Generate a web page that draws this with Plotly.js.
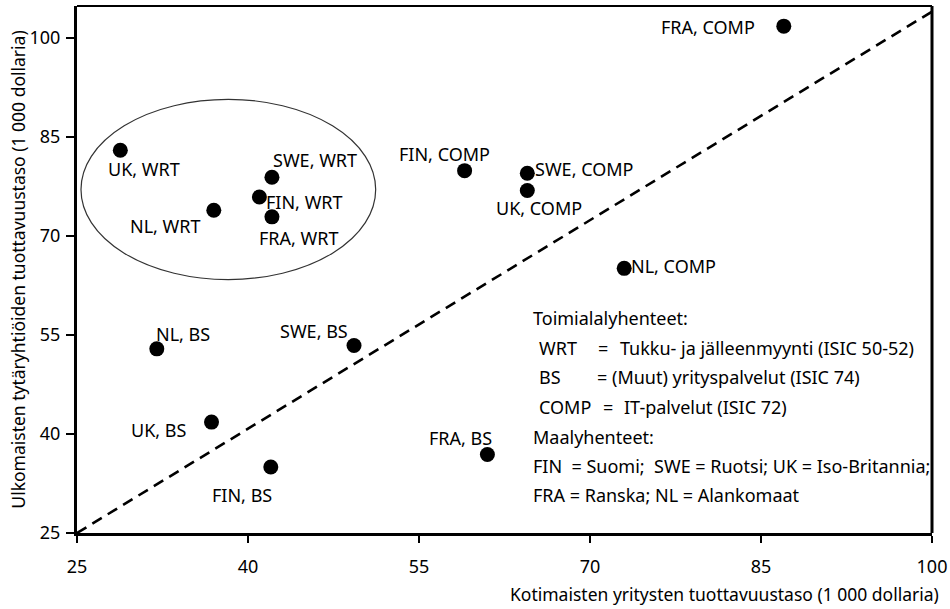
<!DOCTYPE html>
<html>
<head>
<meta charset="utf-8">
<script src="https://cdn.plot.ly/plotly-3.0.1.min.js"></script>
<style>html,body{margin:0;padding:0;background:#fff;}#chart{width:950px;height:609px;}</style>
</head>
<body>
<div id="chart"></div>
<script>
// Data
var labels = ["UK, WRT","NL, WRT","FIN, WRT","SWE, WRT","FRA, WRT",
              "FIN, COMP","SWE, COMP","UK, COMP","FRA, COMP","NL, COMP",
              "NL, BS","SWE, BS","UK, BS","FIN, BS","FRA, BS"];
var domestic = [28.8, 37.0, 41.0, 42.1, 42.1,
                59.0, 64.5, 64.5, 87.0, 73.0,
                32.0, 49.3, 36.8, 42.0, 61.0];
var foreign  = [83.0, 73.9, 75.9, 78.9, 72.9,
                79.9, 79.5, 76.9, 101.8, 65.1,
                52.9, 53.4, 41.8, 35.0, 36.9];
var diagX = [25, 100];
var diagY = [25, 104];
var xTicks = [25, 40, 55, 70, 85, 100];
var yTicks = [25, 40, 55, 70, 85, 100];
var groupBox = {x0: 25.35, x1: 51.2, y0: 63.4, y1: 90.7};

// label offsets in pixels (dx right, dy up)
var labelShift = [[24,-19],[-48,-16],[45,-5],[43,17],[27,-21],
                  [-20,17],[57,4],[11.5,-18],[-76,-1],[49,2],
                  [26.5,15],[-40,15],[-53,-8],[-29,-28],[-27,16]];

var FONT = "Noto Sans, Open Sans, sans-serif";
var FS = 18;
var FT = 17.5;

var traces = [
  {x: diagX, y: diagY, mode: "lines", type: "scatter", hoverinfo: "skip",
   line: {color: "#000", width: 2.6, dash: "11px,7px"}, showlegend: false},
  {x: domestic, y: foreign, mode: "markers", type: "scatter", text: labels,
   marker: {color: "#000", size: 15}, showlegend: false, cliponaxis: false}
];

var ann = labels.map(function(t, i){
  return {x: domestic[i], y: foreign[i], xref: "x", yref: "y", text: t, showarrow: false,
          xshift: labelShift[i][0], yshift: labelShift[i][1],
          font: {family: FONT, size: FS, color: "#000"}};
});

// px -> data helpers for text block placement
function dx(px){ return 25 + (px - 77) / 11.4; }
function dy(py){ return 25 + (532.7 - py) / 6.6; }
function txt(t, px, py){
  return {x: dx(px), y: dy(py), xref: "x", yref: "y", text: t, showarrow: false,
          xanchor: "left", yanchor: "middle", font: {family: FONT, size: FS, color: "#000"}};
}
var legendLines = [
  txt("Toimialalyhenteet:", 531, 318),
  txt("WRT", 537, 348), txt("=", 596, 348), txt("Tukku- ja jälleenmyynti (ISIC 50-52)", 618, 348),
  txt("BS", 537, 377), txt("= (Muut) yrityspalvelut (ISIC 74)", 595, 377),
  txt("COMP", 537, 407), txt("=", 601, 407), txt("IT-palvelut (ISIC 72)", 622, 407),
  txt("Maalyhenteet:", 531, 437),
  txt("FIN&nbsp;&nbsp;= Suomi;&nbsp;&nbsp;SWE = Ruotsi; UK = Iso-Britannia;", 531, 466),
  txt("FRA = Ranska; NL = Alankomaat", 531, 495)
];
ann = ann.concat(legendLines);
ann.push({xref: "paper", yref: "paper", x: 1.0105, y: -0.115, xanchor: "right", yanchor: "middle",
  text: "Kotimaisten yritysten tuottavuustaso (1 000 dollaria)", showarrow: false,
  font: {family: FONT, size: FT, color: "#000"}});

var layout = {
  width: 950, height: 609,
  margin: {l: 77, r: 18, t: 6, b: 76},
  paper_bgcolor: "#fff", plot_bgcolor: "#fff",
  font: {family: FONT, size: FS, color: "#000"},
  xaxis: {range: [25, 100], tickvals: xTicks, ticktext: xTicks.map(String),
          showgrid: false, zeroline: false, showline: true, linecolor: "#000", linewidth: 3,
          ticks: "outside", ticklen: 7, tickwidth: 2, tickcolor: "#000",
          ticklabelstandoff: 8, tickfont: {family: FONT, size: FS}},
  yaxis: {range: [25, 104.85], tickvals: yTicks, ticktext: yTicks.map(String),
          showgrid: false, zeroline: false, showline: true, linecolor: "#000", linewidth: 3,
          ticks: "outside", ticklen: 8, tickwidth: 2, tickcolor: "#000",
          ticklabelstandoff: 2, tickfont: {family: FONT, size: FS},
          title: {text: "Ulkomaisten tytäryhtiöiden tuottavuustaso (1 000 dollaria)",
                  font: {family: FONT, size: FT}, standoff: 0}},
  shapes: [
    {type: "circle", xref: "x", yref: "y", x0: groupBox.x0, x1: groupBox.x1, y0: groupBox.y0, y1: groupBox.y1,
     line: {color: "#333", width: 1.2}},
    {type: "line", xref: "paper", yref: "paper", x0: 0, x1: 1, y0: 1, y1: 1, line: {color: "#000", width: 2}},
    {type: "line", xref: "paper", yref: "paper", x0: 1, x1: 1, y0: 0, y1: 1, line: {color: "#000", width: 3}}
  ],
  annotations: ann,
  showlegend: false
};

Plotly.newPlot("chart", traces, layout, {displayModeBar: false, staticPlot: true});
</script>
</body>
</html>
